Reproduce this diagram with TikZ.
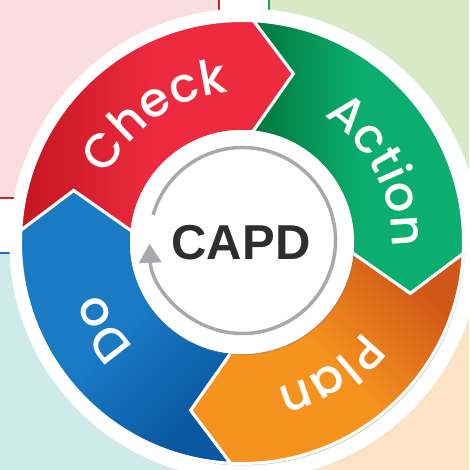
\documentclass[tikz,border=0pt]{standalone}
\usepackage{fontspec}
\setmainfont{Liberation Sans}
\newfontfamily\segfont{Poppins Medium}
\usepackage{tikz}
\usetikzlibrary{arrows.meta,decorations.text,shadows}

\definecolor{bgpink}{HTML}{F9DDE1}
\definecolor{bggreen}{HTML}{D8E9C7}
\definecolor{bgcyan}{HTML}{CEEBEA}
\definecolor{bgpeach}{HTML}{FCE3C6}
\definecolor{lnred}{HTML}{C1272D}
\definecolor{lngreen}{HTML}{1DA34F}
\definecolor{lnblue}{HTML}{1B75BC}
\definecolor{checkdark}{HTML}{C41620}
\definecolor{checklight}{HTML}{EE2A40}
\definecolor{actiondark}{HTML}{00773A}
\definecolor{actionlight}{HTML}{0BAE6F}
\definecolor{plandark}{HTML}{CF5718}
\definecolor{planlight}{HTML}{F6931E}
\definecolor{dodark}{HTML}{0857A0}
\definecolor{dolight}{HTML}{1A7AC4}
\definecolor{arcgray}{HTML}{A7A9AC}
\definecolor{capdgray}{HTML}{2E2E2E}

\newcommand{\Rout}{221.5}
\newcommand{\Rin}{110.5}
\newcommand{\Rtip}{176}
\newcommand{\segpath}[1]{({#1+1}:\Rout) arc[start angle={#1+1}, end angle={#1-89}, radius=\Rout]
  -- ({#1-103}:\Rtip) -- ({#1-91.5}:\Rin) arc[start angle={#1-91.5}, end angle={#1-1.5}, radius=\Rin]
  -- ({#1-13}:\Rtip) -- cycle}
\newcommand{\segstyle}{\segfont\fontsize{48}{48}\selectfont\color{white}}

\tikzstyle{seg} = [draw=white, line width=3pt, line join=miter]
\tikzstyle{segshadow} = [fill=black, opacity=0.2]
\tikzstyle{segtext} = [decorate, decoration={text along path, text align=center}]
\tikzstyle{capd} = [text=capdgray, font=\fontsize{49}{49}\selectfont\bfseries]

\begin{document}
\begin{tikzpicture}[x=1pt,y=1pt]

\useasboundingbox (-242,-228) rectangle (227,242);

\fill[bgpink] (-242,242) rectangle (-23,44);
\fill[bggreen] (27,242) rectangle (227,44);
\fill[bgcyan] (-242,-11) rectangle (-23,-228);
\fill[bgpeach] (27,-11) rectangle (227,-228);
\draw[lnred, line width=1.2pt] (-242,44) -- (-23,44) -- (-23,242);
\draw[lngreen, line width=1.2pt] (27,242) -- (27,44);
\draw[lnblue, line width=1.2pt] (-242,-11) -- (-23,-11);

\fill[white] (3,-2) circle[radius=235.5];

\fill[segshadow, shift={(1.5,-2)}] \segpath{176};
\fill[segshadow, shift={(1.5,-2)}] \segpath{86};
\fill[segshadow, shift={(1.5,-2)}] \segpath{-4};
\fill[segshadow, shift={(1.5,-2)}] \segpath{266};

\path[seg, top color=checkdark, bottom color=checklight, middle color=checklight, shading angle=90] \segpath{176};
\path[seg, top color=actiondark, bottom color=actionlight, middle color=actionlight, shading angle=90] \segpath{86};
\path[seg, top color=plandark, bottom color=planlight, middle color=planlight, shading angle=-45] \segpath{-4};
\path[seg, top color=dodark, bottom color=dolight, middle color=dolight, shading angle=-135] \segpath{266};

\fill[white, drop shadow={shadow xshift=1pt, shadow yshift=-1.5pt, opacity=0.3}] (0,0) circle[radius=112];

\path[segtext, decoration={text={|\segstyle|Check}}] (174.5:150) arc[start angle=174.5, end angle=74.5, radius=150];
\path[segtext, decoration={text={|\segstyle|Action}}] (77.5:150) arc[start angle=77.5, end angle=-22.5, radius=150];
\path[segtext, decoration={text={|\segstyle|Plan}}] (-6.5:150) arc[start angle=-6.5, end angle=-106.5, radius=150];
\path[segtext, decoration={text={|\segstyle|Do}}] (262:150) arc[start angle=262, end angle=162, radius=150];

\draw[arcgray, line width=3.5pt, -{Triangle[width=22pt,length=19pt]}] (0.5,1.5) ++(164:93) arc[start angle=164, end angle=-178, radius=93];

\node[capd] (capd) at (-1,-1) {CAPD};

\end{tikzpicture}
\end{document}
